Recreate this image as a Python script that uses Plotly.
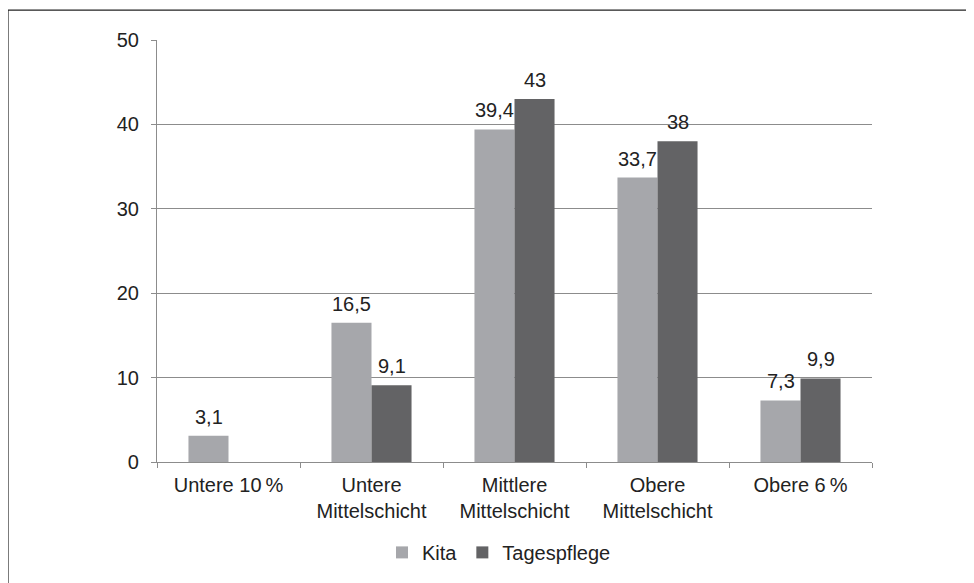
import plotly.graph_objects as go

categories = ["Untere 10\u2009%", "Untere<br>Mittelschicht", "Mittlere<br>Mittelschicht",
              "Obere<br>Mittelschicht", "Obere 6\u2009%"]
kita = [3.1, 16.5, 39.4, 33.7, 7.3]
tagespflege = [None, 9.1, 43, 38, 9.9]
kita_labels = ["3,1", "16,5", "39,4", "33,7", "7,3"]
tages_labels = ["", "9,1", "43", "38", "9,9"]
y_ticks = [0, 10, 20, 30, 40, 50]

# page body adds an 8px offset; positions below are in page pixels
OFF = 8
W, H = 974, 583
plot_left, plot_right, plot_top, plot_bottom = 157, 872, 40, 462.5
L = plot_left - OFF
R = W - (plot_right - OFF)
T = plot_top - OFF
B = H - (plot_bottom - OFF)
pw, ph = W - L - R, H - T - B

def px_x(p):
    return (p - OFF - L) / pw

def px_y(p):
    return (H - B - (p - OFF)) / ph

font = "Liberation Sans, Arial, sans-serif"
FS = 20
TXT = "#222222"
BAR_HALF = 20      # half of one bar's width in px
LABEL_LIFT = 6     # gap between bar top and its value label box

fig = go.Figure()
fig.add_trace(go.Bar(name="Kita", x=categories, y=kita, marker_color="#a6a7ab",
                     marker_line_width=0))
fig.add_trace(go.Bar(name="Tagespflege", x=categories, y=tagespflege, marker_color="#636365",
                     marker_line_width=0))

annotations = []
for series, labels, shift in ((kita, kita_labels, -BAR_HALF), (tagespflege, tages_labels, BAR_HALF)):
    for cat, val, lab in zip(categories, series, labels):
        if val is None or not lab:
            continue
        annotations.append(dict(x=cat, y=val, xref="x", yref="y", text=lab, showarrow=False,
                                xanchor="center", yanchor="bottom", xshift=shift,
                                yshift=LABEL_LIFT, font=dict(size=FS, color=TXT)))

fig.update_layout(
    width=W, height=H,
    margin=dict(l=L, r=R, t=T, b=B, pad=0),
    paper_bgcolor="white", plot_bgcolor="white",
    font=dict(family=font, size=FS, color=TXT),
    barmode="group", bargap=0.44, bargroupgap=0,
    showlegend=True,
    legend=dict(orientation="h", x=px_x(499), xanchor="center", y=px_y(553), yanchor="middle",
                font=dict(size=FS), itemwidth=30, traceorder="normal", tracegroupgap=0),
    annotations=annotations,
    shapes=[
        dict(type="line", xref="paper", yref="paper", x0=px_x(8), x1=px_x(982),
             y0=px_y(10), y1=px_y(10), line=dict(color="#222222", width=1.2)),
        dict(type="line", xref="paper", yref="paper", x0=px_x(8), x1=px_x(8),
             y0=px_y(10), y1=px_y(600), line=dict(color="#222222", width=1.2)),
    ],
)
fig.update_yaxes(range=[0, 50], tickvals=y_ticks, showgrid=True, gridcolor="#8c8c8c", gridwidth=1,
                 showline=True, linecolor="#8c8c8c", linewidth=1.2, ticks="outside", ticklen=5,
                 tickcolor="#8c8c8c", zeroline=False, ticklabelstandoff=8,
                 tickfont=dict(size=FS, color=TXT))
fig.update_xaxes(showline=True, linecolor="#8c8c8c", linewidth=1.2, ticks="outside", ticklen=5,
                 tickcolor="#8c8c8c", tickson="boundaries", showgrid=False,
                 tickfont=dict(size=FS, color=TXT), tickangle=0, ticklabelstandoff=5)

fig.write_html("out.html")
